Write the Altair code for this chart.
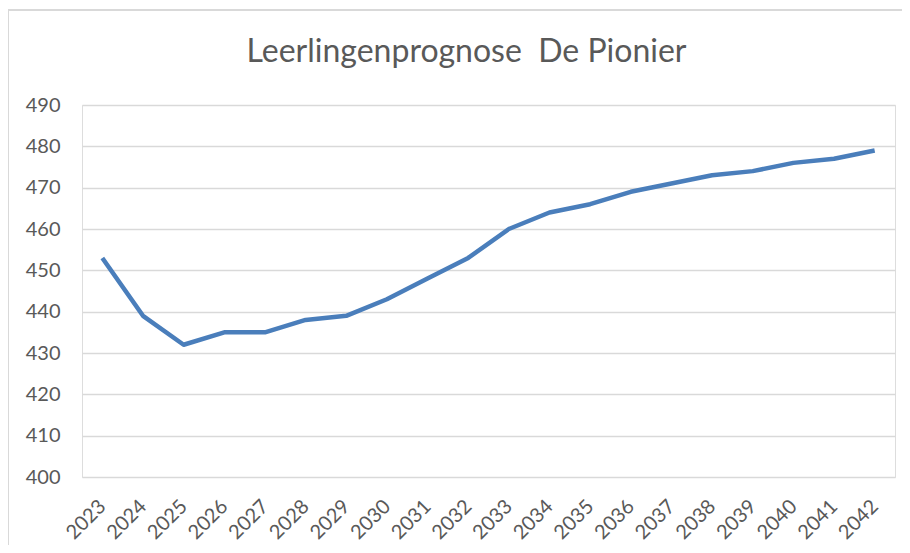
import altair as alt
import pandas as pd

years = [str(y) for y in range(2023, 2043)]
leerlingen = [453, 439, 432, 435, 435, 438, 439, 443, 448, 453,
              460, 464, 466, 469, 471, 473, 474, 476, 477, 479]
y_ticks = [400, 410, 420, 430, 440, 450, 460, 470, 480, 490]

df = pd.DataFrame({"jaar": years, "aantal": leerlingen})

FONT = "Lato"
GRAY = "#595959"

line = alt.Chart(df).mark_line(color="#4a7ebb", strokeWidth=4.5, strokeJoin="round").encode(
    x=alt.X("jaar:N", sort=years, title=None,
            scale=alt.Scale(paddingInner=1, paddingOuter=0.5),
            axis=alt.Axis(labelAngle=-45, labelAlign="right", labelBaseline="middle",
                          labelPadding=26, ticks=False, domain=False, grid=False,
                          labelFont=FONT, labelFontSize=20, labelColor=GRAY)),
    y=alt.Y("aantal:Q", title=None,
            scale=alt.Scale(domain=[400, 490], nice=False, zero=False),
            axis=alt.Axis(values=y_ticks, ticks=False, domain=False, labelPadding=22,
                          labelFont=FONT, labelFontSize=20, labelColor=GRAY,
                          gridColor="#d9d9d9", gridWidth=1.5)),
)

frame = alt.Chart(pd.DataFrame({"k": [0]})).mark_rect(
    fill=None, stroke="#d9d9d9", strokeWidth=2
).encode(
    x=alt.value(-74), x2=alt.value(900), y=alt.value(-95), y2=alt.value(520)
)

chart = alt.layer(frame, line).properties(
    width=813, height=372,
    autosize=alt.AutoSizeParams(type="none"),
    padding={"left": 74, "top": 97, "right": 7, "bottom": 68},
    title=alt.TitleParams("Leerlingenprognose\u00a0 De Pionier", font=FONT, fontSize=32,
                          fontWeight="normal", color=GRAY, anchor="middle",
                          dx=-22, dy=96, offset=36),
).configure_view(strokeWidth=0).configure(background="white")

chart.save("out.html", embed_options={"renderer": "svg", "actions": False})
